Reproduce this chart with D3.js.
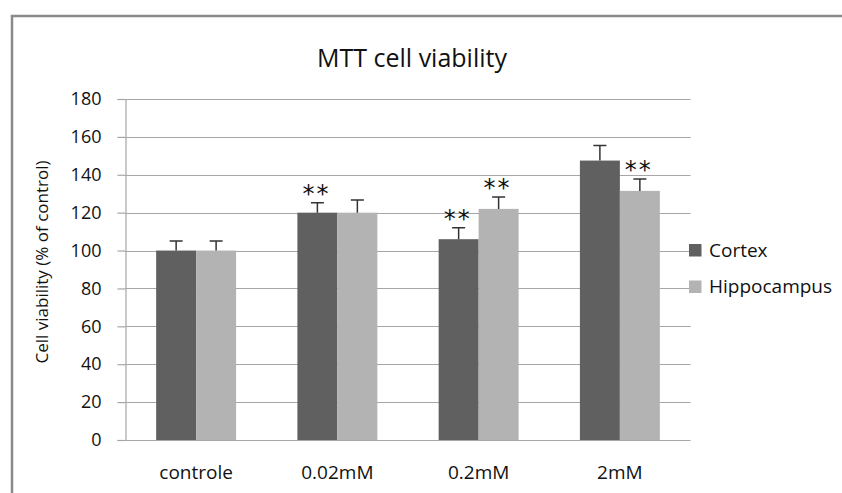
<!DOCTYPE html>
<html lang="en">
<head>
<meta charset="UTF-8">
<title>MTT cell viability</title>
<script src="https://cdn.jsdelivr.net/npm/d3@7"></script>
<style>
  body { margin: 0; background: #fff; }
  text { font-family: "Open Sans", sans-serif; fill: #111; }
</style>
</head>
<body>
<script>
// chart values
var categories = ["controle", "0.02mM", "0.2mM", "2mM"];
var seriesNames = ["Cortex", "Hippocampus"];
var cortex = [100, 120, 106, 147.5];
var cortexErr = [5, 5.3, 6, 8];
var hippocampus = [100, 120, 122, 131.5];
var hippocampusErr = [5, 6.7, 6.3, 6.3];
var yTicks = [0, 20, 40, 60, 80, 100, 120, 140, 160, 180];
// significance marks (**): [category, series]
var stars = [["0.02mM", "Cortex"], ["0.2mM", "Cortex"], ["0.2mM", "Hippocampus"], ["2mM", "Hippocampus"]];

var w = 842, h = 493;
var colors = { "Cortex": "#606060", "Hippocampus": "#b3b3b3" };

var svg = d3.select("body").append("svg")
    .attr("width", w)
    .attr("height", h);

// outer chart frame (runs off the right and bottom edge)
svg.append("rect")
    .attr("x", 12).attr("y", 16)
    .attr("width", 900).attr("height", 600)
    .attr("fill", "none")
    .attr("stroke", "#8a8a8a")
    .attr("stroke-width", 2.5);

// plot area edges
var pLeft = 125.5, pRight = 690.5, pTop = 99, pBottom = 440;

var x0 = d3.scaleBand()
    .domain(categories)
    .range([pLeft, pRight])
    .paddingInner(0.434)
    .paddingOuter(0.217);

var x1 = d3.scaleBand()
    .domain(seriesNames)
    .range([0, x0.bandwidth()]);

var y = d3.scaleLinear()
    .domain([0, 180])
    .range([pBottom, pTop]);

// gridlines
svg.append("g")
    .selectAll("line")
    .data(yTicks)
    .enter()
    .append("line")
    .attr("x1", pLeft).attr("x2", pRight)
    .attr("y1", function(d) { return Math.round(y(d)) + 0.5; })
    .attr("y2", function(d) { return Math.round(y(d)) + 0.5; })
    .attr("stroke", "#a6a6a6")
    .attr("stroke-width", 1.2);

// y axis
var yAxis = svg.append("g")
    .attr("transform", "translate(" + pLeft + ",0)")
    .call(d3.axisLeft(y).tickValues(yTicks).tickSize(8).tickPadding(16));
yAxis.select(".domain").attr("stroke", "#a6a6a6").attr("stroke-width", 1.2);
yAxis.selectAll(".tick line").attr("stroke", "#a6a6a6").attr("stroke-width", 1.2);
yAxis.selectAll(".tick text")
    .style("font-family", "'Open Sans', sans-serif")
    .style("font-size", "18px")
    .attr("fill", "#111");

// bars
var rows = categories.map(function(c, i) {
    return [
        { cat: c, series: "Cortex", value: cortex[i], err: cortexErr[i] },
        { cat: c, series: "Hippocampus", value: hippocampus[i], err: hippocampusErr[i] }
    ];
});

var groups = svg.append("g")
    .selectAll("g")
    .data(rows)
    .enter()
    .append("g")
    .attr("transform", function(d, i) { return "translate(" + x0(categories[i]) + ",0)"; });

groups.selectAll("rect")
    .data(function(d) { return d; })
    .enter()
    .append("rect")
    .attr("x", function(d) { return x1(d.series); })
    .attr("y", function(d) { return y(d.value); })
    .attr("width", x1.bandwidth())
    .attr("height", function(d) { return y(0) - y(d.value); })
    .attr("fill", function(d) { return colors[d.series]; });

// error bars (upper only)
groups.selectAll("path.err")
    .data(function(d) { return d; })
    .enter()
    .append("path")
    .attr("class", "err")
    .attr("d", function(d) {
        var cx = x1(d.series) + x1.bandwidth() / 2;
        var yt = y(d.value + d.err);
        return "M" + cx + "," + y(d.value) + "V" + yt + "M" + (cx - 6.5) + "," + yt + "H" + (cx + 6.5);
    })
    .attr("fill", "none")
    .attr("stroke", "#333")
    .attr("stroke-width", 1.5);

// significance stars
function capValue(cat, series) {
    var i = categories.indexOf(cat);
    return series === "Cortex" ? cortex[i] + cortexErr[i] : hippocampus[i] + hippocampusErr[i];
}
svg.append("g")
    .selectAll("text")
    .data(stars)
    .enter()
    .append("text")
    .attr("x", function(d) { return x0(d[0]) + x1(d[1]) + x1.bandwidth() / 2 - 1; })
    .attr("y", function(d) { return y(capValue(d[0], d[1])) - 1; })
    .attr("text-anchor", "middle")
    .style("font-family", "'DejaVu Sans', sans-serif")
    .style("font-size", "24px")
    .style("letter-spacing", "2px")
    .attr("fill", "#222")
    .text("**");

// x labels
svg.append("g")
    .selectAll("text")
    .data(categories)
    .enter()
    .append("text")
    .attr("x", function(d) { return x0(d) + x0.bandwidth() / 2; })
    .attr("y", 479)
    .attr("text-anchor", "middle")
    .style("font-size", "19px")
    .text(function(d) { return d; });

// title
svg.append("text")
    .attr("x", 412)
    .attr("y", 67)
    .attr("text-anchor", "middle")
    .style("font-size", "25px")
    .text("MTT cell viability");

// y axis title
svg.append("text")
    .attr("transform", "translate(48,262) rotate(-90)")
    .attr("text-anchor", "middle")
    .style("font-size", "17px")
    .text("Cell viability (% of control)");

// legend
var legend = svg.append("g")
    .selectAll("g")
    .data(seriesNames)
    .enter()
    .append("g")
    .attr("transform", function(d, i) { return "translate(689," + (244 + i * 36.5) + ")"; });
legend.append("rect")
    .attr("width", 12.5)
    .attr("height", 12.5)
    .attr("fill", function(d) { return colors[d]; });
legend.append("text")
    .attr("x", 20)
    .attr("y", 12.7)
    .style("font-size", "19px")
    .text(function(d) { return d; });
</script>
</body>
</html>
